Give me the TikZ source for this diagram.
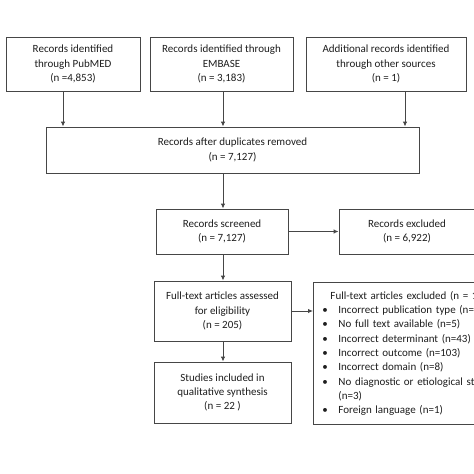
\documentclass[tikz,border=0pt]{standalone}
\usepackage{fontspec}
\setmainfont{Carlito}
\usetikzlibrary{arrows.meta}
\definecolor{ln}{RGB}{70,70,70}
\definecolor{tx}{RGB}{30,30,30}
\begin{document}
\begin{tikzpicture}[x=1pt,y=-1pt,
  bx/.style={draw=ln,line width=0.9pt,rectangle,align=center,inner sep=0pt,text=tx,font=\fontsize{11}{14.3}\selectfont},
  arr/.style={draw=ln,line width=0.9pt,-{Latex[length=5pt,width=4.5pt]}}]
\useasboundingbox (0,0) rectangle (474,474);
\clip (0,0) rectangle (474,474);
\fill[white] (0,0) rectangle (474,474);
\node[bx,minimum width=134pt,minimum height=54pt] (b1) at (73,64) {Records identified\\through PubMED\\(n =4,853)};
\node[bx,minimum width=143pt,minimum height=54pt] (b2) at (221.5,64) {Records identified through\\EMBASE\\(n = 3,183)};
\node[bx,minimum width=160pt,minimum height=54pt] (b3) at (386,64) {Additional records identified\\through other sources\\(n = 1)};
\node[bx,minimum width=373pt,minimum height=46pt] (b4) at (232.5,150) {Records after duplicates removed\\(n = 7,127)};
\node[bx,minimum width=132pt,minimum height=45pt] (b5) at (222,231.5) {Records screened\\(n = 7,127)};
\node[bx,minimum width=136pt,minimum height=45pt] (b6) at (407,231.5) {Records excluded\\(n = 6,922)};
\node[bx,minimum width=137pt,minimum height=60pt] (b7) at (222.5,311) {Full-text articles assessed\\for eligibility\\(n = 205)};
\node[bx,minimum width=137pt,minimum height=61pt] (b9) at (222.5,392.5) {Studies included in\\qualitative synthesis\\(n = 22 )};
\node[bx,anchor=north west,minimum width=200pt,minimum height=142pt,align=left,text width=200pt,inner xsep=0pt,inner ysep=7pt] (b8) at (313,282) {%
\hspace*{17pt}Full-text articles excluded (n = 183)\\
\hspace*{9pt}\makebox[16pt][l]{\textbullet}Incorrect publication type (n=20)\\
\hspace*{9pt}\makebox[16pt][l]{\textbullet}No full text available (n=5)\\
\hspace*{9pt}\makebox[16pt][l]{\textbullet}Incorrect determinant (n=43)\\
\hspace*{9pt}\makebox[16pt][l]{\textbullet}Incorrect outcome (n=103)\\
\hspace*{9pt}\makebox[16pt][l]{\textbullet}Incorrect domain (n=8)\\
\hspace*{9pt}\makebox[16pt][l]{\textbullet}No diagnostic or etiological study\\
\hspace*{25pt}(n=3)\\
\hspace*{9pt}\makebox[16pt][l]{\textbullet}Foreign language (n=1)};
\coordinate (c1) at (63,0);
\coordinate (c2) at (223,0);
\coordinate (c3) at (405,0);
\draw[arr] (b1.south -| c1) -- (b4.north -| c1);
\draw[arr] (b2.south -| c2) -- (b4.north -| c2);
\draw[arr] (b3.south -| c3) -- (b4.north -| c3);
\draw[arr] (b4.south -| c2) -- (b5.north -| c2);
\draw[arr] (b5) -- (b6);
\draw[arr] (b5.south -| c2) -- (b7.north -| c2);
\draw[arr] (b7) -- (b7 -| b8.west);
\draw[arr] (b7.south -| c2) -- (b9.north -| c2);
\end{tikzpicture}
\end{document}
